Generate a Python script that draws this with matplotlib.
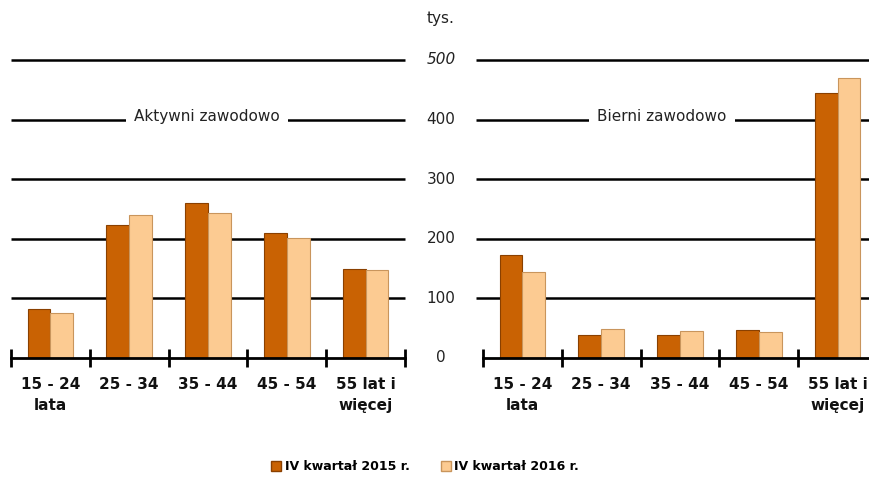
import numpy as np
import matplotlib
matplotlib.use("Agg")
import matplotlib.pyplot as plt
from matplotlib.transforms import blended_transform_factory

# dane (tys.)
kategorie = ["15 - 24\nlata", "25 - 34", "35 - 44", "45 - 54", "55 lat i\nwięcej"]
aktywni_2015 = [82, 223, 260, 210, 150]
aktywni_2016 = [75, 240, 243, 201, 147]
bierni_2015 = [173, 38, 38, 47, 444]
bierni_2016 = [145, 49, 45, 43, 469]
ticki_y = [0, 100, 200, 300, 400, 500]
tytuly = ["Aktywni zawodowo", "Bierni zawodowo"]
legenda = ["IV kwartał 2015 r.", "IV kwartał 2016 r."]

kol_2015 = "#C96203"
kol_2016 = "#FCCB92"
krawedz_2015 = "#8A4000"
krawedz_2016 = "#C9955C"

plt.rcParams['font.family'] = ['DejaVu Sans']

fig = plt.figure(figsize=(8.69, 4.79), dpi=100)
W, H = 869.0, 479.0
dol = (H - 358) / H
wys = (358 - 60) / H * 520 / 500
axL = fig.add_axes([11 / W, dol, 394 / W, wys])
axR = fig.add_axes([483 / W, dol, 394 / W, wys])

x = np.arange(len(kategorie))
szer = 0.29

for ax, v15, v16, tyt, tx, gstart in [
    (axL, aktywni_2015, aktywni_2016, tytuly[0], 1.99, -0.5),
    (axR, bierni_2015, bierni_2016, tytuly[1], 1.77, -0.59),
]:
    ax.set_xlim(-0.5, 4.5)
    ax.set_ylim(0, 520)
    for yv in ticki_y[1:]:
        ax.hlines(yv, gstart, 4.5, color="black", lw=1.8, zorder=1, clip_on=False)
    ax.bar(x - szer / 2, v15, szer, color=kol_2015, edgecolor=krawedz_2015, lw=0.8, zorder=3)
    ax.bar(x + szer / 2, v16, szer, color=kol_2016, edgecolor=krawedz_2016, lw=0.8, zorder=3)
    ax.text(tx, 405, tyt, ha="center", va="center", fontsize=11, color="#222222", zorder=2,
            bbox=dict(facecolor="white", edgecolor="none", pad=6))
    for s in ["top", "left", "right"]:
        ax.spines[s].set_visible(False)
    ax.spines["bottom"].set_linewidth(2)
    ax.spines["bottom"].set_zorder(4)
    ax.set_yticks([])
    ax.set_xticks(x)
    ax.set_xticklabels(kategorie, fontsize=11, fontweight="bold", color="#111111", linespacing=1.5)
    ax.tick_params(axis="x", which="major", length=0, pad=14)
    ax.set_xticks(np.arange(-0.5, 5, 1), minor=True)
    ax.tick_params(axis="x", which="minor", length=13, width=2, direction="inout", color="black")

# os Y miedzy panelami
tr = blended_transform_factory(fig.transFigure, axR.transData)
for yv in ticki_y:
    styl = "italic" if yv == 500 else "normal"
    axR.text(441 / W, yv, str(yv), transform=tr, ha="center", va="center",
             fontsize=11, style=styl, color="#222222", clip_on=False)
fig.text(441 / W, 1 - 18 / H, "tys.", ha="center", va="center", fontsize=11, color="#222222")

uchwyty = [plt.Rectangle((0, 0), 1, 1, facecolor=kol_2015, edgecolor=krawedz_2015),
           plt.Rectangle((0, 0), 1, 1, facecolor=kol_2016, edgecolor=krawedz_2016)]
fig.legend(uchwyty, legenda, loc="center", bbox_to_anchor=(425 / W, 1 - 467 / H), ncol=2,
           frameon=False, prop=dict(size=9, weight="bold"), handlelength=0.8, handleheight=0.8,
           handletextpad=0.3, columnspacing=2.5)

fig.savefig("out.png", dpi=100)
